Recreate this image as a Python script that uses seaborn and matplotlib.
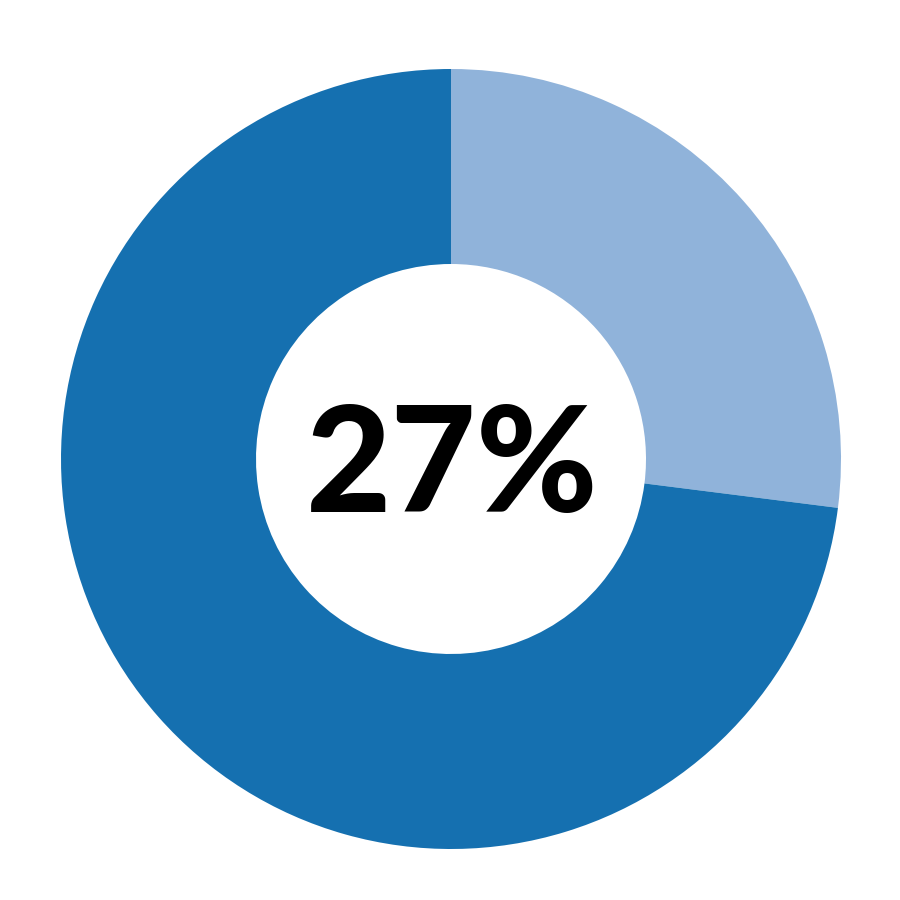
import matplotlib
matplotlib.use("Agg")
import matplotlib.pyplot as plt
import seaborn as sns

categories = ["Share", "Remainder"]
values = [27, 73]
colors = ["#90B3DA", "#1570B0"]
center_label = f"{values[0]}%"

sns.set_theme(style="white")
plt.rcParams['font.family'] = ['Lato', 'DejaVu Sans']

fig = plt.figure(figsize=(9, 9), dpi=100)
ax = fig.add_axes([0, 0, 1, 1])
ax.set_xlim(0, 900)
ax.set_ylim(0, 900)
ax.set_aspect('equal')
ax.axis('off')

ax.pie(values, colors=colors, startangle=90, counterclock=False,
       center=(451, 441), radius=390,
       wedgeprops=dict(width=195, edgecolor='none', linewidth=0))
ax.set_xlim(0, 900)
ax.set_ylim(0, 900)

ax.text(452, 431, center_label, ha='center', va='center',
        fontsize=106, fontweight='black', color='black')

fig.savefig("out.png", dpi=100, facecolor='white')
